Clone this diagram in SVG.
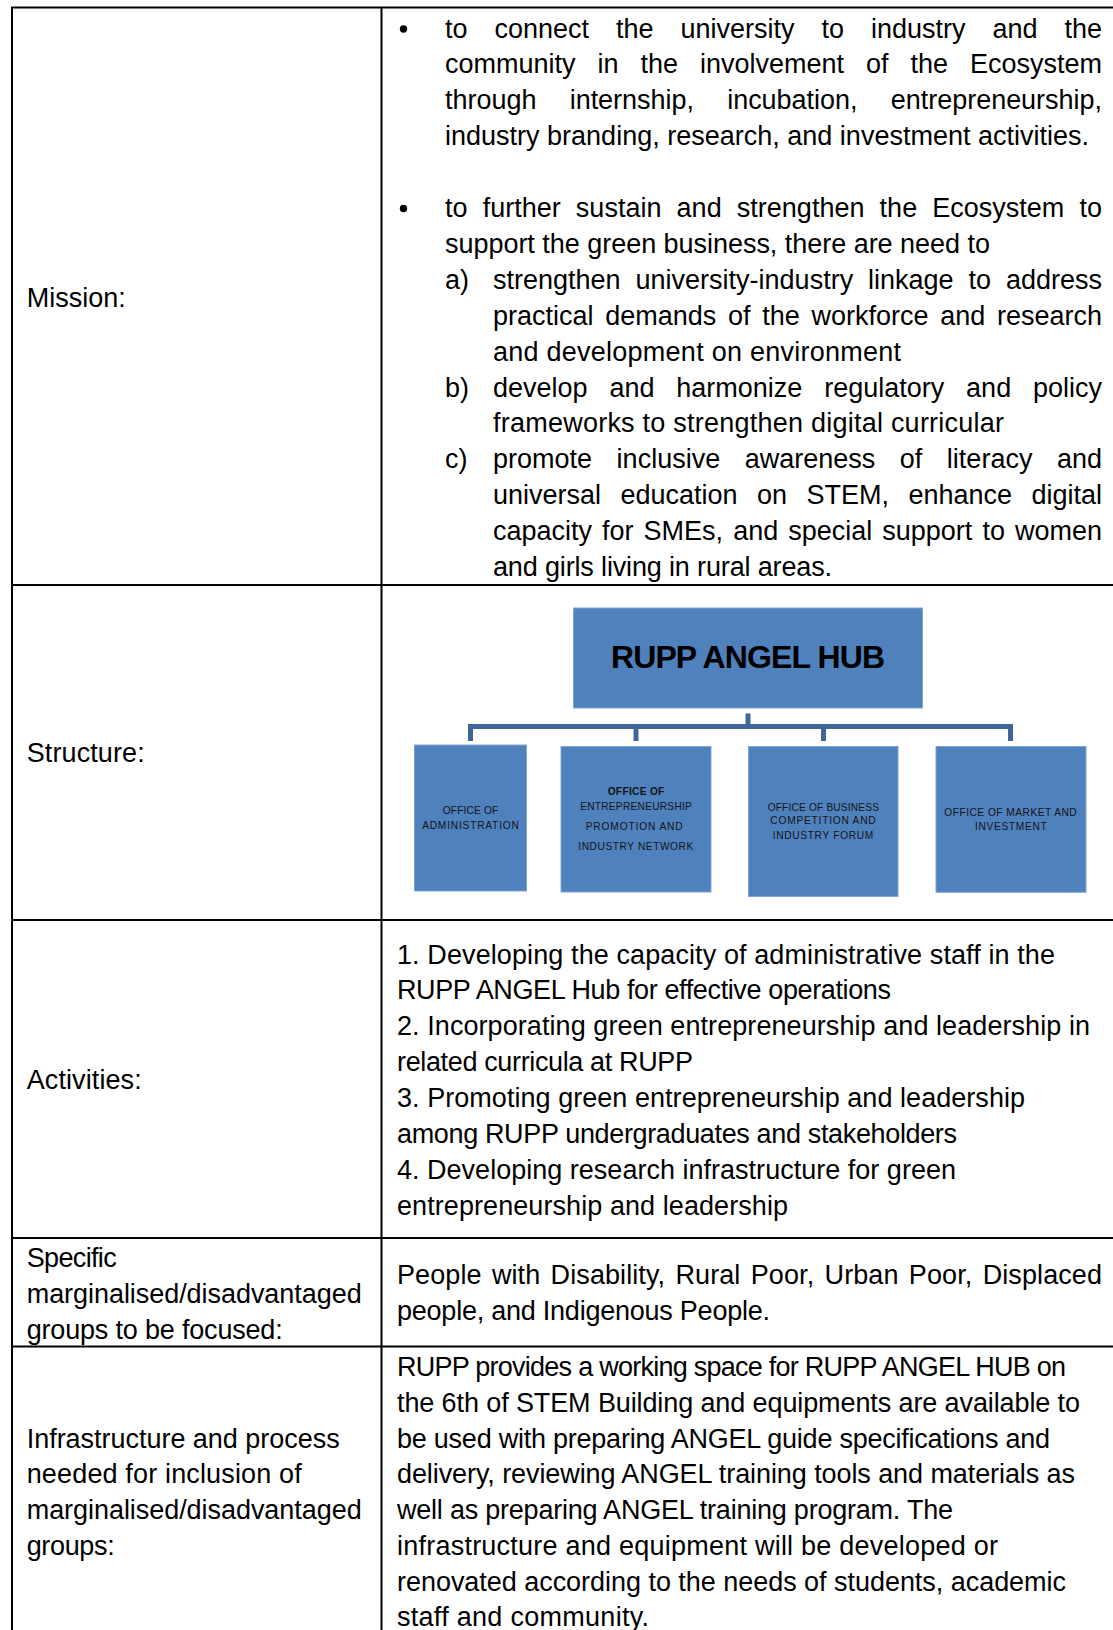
<svg xmlns="http://www.w3.org/2000/svg" width="1113" height="1630" viewBox="0 0 1113 1630">
<style>
.t{font-family:"Liberation Sans",Arial,sans-serif;font-size:27px;fill:#000}
.grid{stroke:#000;stroke-width:2;fill:none}
.box{fill:#4F81BD;stroke:#7FA5D5;stroke-width:1}
.bt{font-family:"Liberation Sans",Arial,sans-serif;font-size:10.2px;fill:#141414;text-anchor:middle}
.hub{font-family:"Liberation Sans",Arial,sans-serif;font-size:32px;font-weight:bold;fill:#000;text-anchor:middle}
.conn{stroke:#3F6699;stroke-width:5;fill:none}
.dot{fill:#000}
</style>
<rect x="0" y="0" width="1113" height="1630" fill="#fff"/>
<g id="table-grid">
<line class="grid" x1="11" y1="7.5" x2="1113" y2="7.5"/>
<line class="grid" x1="12" y1="7.5" x2="12" y2="1630"/>
<line class="grid" x1="381.5" y1="7.5" x2="381.5" y2="1630"/>
<line class="grid" x1="12" y1="585" x2="1113" y2="585"/>
<line class="grid" x1="12" y1="920" x2="1113" y2="920"/>
<line class="grid" x1="12" y1="1238" x2="1113" y2="1238"/>
<line class="grid" x1="12" y1="1346.5" x2="1113" y2="1346.5"/>
</g>
<g id="labels">
<text class="t" x="26.7" y="306.5" textLength="99">Mission:</text>
<text class="t" x="26.7" y="761.7" textLength="118">Structure:</text>
<text class="t" x="26.7" y="1089" textLength="115">Activities:</text>
<text class="t" x="26.7" y="1267" textLength="90">Specific</text>
<text class="t" x="26.7" y="1302.5" textLength="335">marginalised/disadvantaged</text>
<text class="t" x="26.7" y="1338.5" textLength="256">groups to be focused:</text>
<text class="t" x="26.7" y="1447.5" textLength="313">Infrastructure and process</text>
<text class="t" x="26.7" y="1483.3" textLength="275">needed for inclusion of</text>
<text class="t" x="26.7" y="1519" textLength="335">marginalised/disadvantaged</text>
<text class="t" x="26.7" y="1554.8" textLength="88">groups:</text>
</g>
<g id="mission">
<circle class="dot" cx="403.5" cy="29" r="3.7"/>
<circle class="dot" cx="403.5" cy="208.5" r="3.7"/>
<text class="t" x="445" y="37.5" textLength="657" style="word-spacing:19.4px">to connect the university to industry and the</text>
<text class="t" x="445" y="73.4" textLength="657" style="word-spacing:14.4px">community in the involvement of the Ecosystem</text>
<text class="t" x="445" y="109.3" textLength="657" style="word-spacing:25.8px">through internship, incubation, entrepreneurship,</text>
<text class="t" x="445" y="145.2" textLength="644">industry branding, research, and investment activities.</text>
<text class="t" x="445" y="217" textLength="657" style="word-spacing:7.6px">to further sustain and strengthen the Ecosystem to</text>
<text class="t" x="445" y="252.9" textLength="545">support the green business, there are need to</text>
<text class="t" x="445" y="288.8">a)</text>
<text class="t" x="493" y="288.8" textLength="609" style="word-spacing:7.4px">strengthen university-industry linkage to address</text>
<text class="t" x="493" y="324.7" textLength="609" style="word-spacing:4.2px">practical demands of the workforce and research</text>
<text class="t" x="493" y="360.6" textLength="408">and development on environment</text>
<text class="t" x="445" y="396.5">b)</text>
<text class="t" x="493" y="396.5" textLength="609" style="word-spacing:14.3px">develop and harmonize regulatory and policy</text>
<text class="t" x="493" y="432.4" textLength="511">frameworks to strengthen digital curricular</text>
<text class="t" x="445" y="468.3">c)</text>
<text class="t" x="493" y="468.3" textLength="609" style="word-spacing:17px">promote inclusive awareness of literacy and</text>
<text class="t" x="493" y="504.2" textLength="609" style="word-spacing:11.9px">universal education on STEM, enhance digital</text>
<text class="t" x="493" y="540.1" textLength="609" style="word-spacing:2.5px">capacity for SMEs, and special support to women</text>
<text class="t" x="493" y="576" textLength="339">and girls living in rural areas.</text>
</g>
<g id="connectors">
<line class="conn" x1="748" y1="713.5" x2="748" y2="727"/>
<path class="conn" d="M470.5,741 V726.5 H1010.5 V741"/>
<line class="conn" x1="636" y1="726" x2="636" y2="741"/>
<line class="conn" x1="823.5" y1="726" x2="823.5" y2="741"/>
</g>
<g id="node-hub">
<rect class="box" x="573.5" y="608" width="349" height="100"/>
<text class="hub" x="748" y="668" textLength="274">RUPP ANGEL HUB</text>
</g>
<g id="node-admin">
<rect class="box" x="414.5" y="745" width="112" height="146"/>
<text class="bt" x="470.5" y="814" textLength="55.6">OFFICE OF</text>
<text class="bt" x="470.5" y="828.5" textLength="96.7">ADMINISTRATION</text>
</g>
<g id="node-entrepreneurship">
<rect class="box" x="561" y="746.5" width="150" height="145.5"/>
<text class="bt" x="636" y="795" textLength="56.7" font-weight="bold">OFFICE OF</text>
<text class="bt" x="636" y="809.5" textLength="111.7">ENTREPRENEURSHIP</text>
<text class="bt" x="634.2" y="830" textLength="97">PROMOTION AND</text>
<text class="bt" x="635.8" y="850" textLength="115">INDUSTRY NETWORK</text>
</g>
<g id="node-business">
<rect class="box" x="748.5" y="746.5" width="149.5" height="150"/>
<text class="bt" x="823.3" y="810.5" textLength="111.3">OFFICE OF BUSINESS</text>
<text class="bt" x="823" y="824.3" textLength="105.3">COMPETITION AND</text>
<text class="bt" x="823" y="839" textLength="100.7">INDUSTRY FORUM</text>
</g>
<g id="node-market">
<rect class="box" x="936" y="746.5" width="150" height="145.8"/>
<text class="bt" x="1010.5" y="815.5" textLength="132.3">OFFICE OF MARKET AND</text>
<text class="bt" x="1010.8" y="830" textLength="71.7">INVESTMENT</text>
</g>
<g id="activities">
<text class="t" x="397" y="963.5" textLength="658">1. Developing the capacity of administrative staff in the</text>
<text class="t" x="397" y="999.4" textLength="494">RUPP ANGEL Hub for effective operations</text>
<text class="t" x="397" y="1035.2" textLength="693">2. Incorporating green entrepreneurship and leadership in</text>
<text class="t" x="397" y="1071.1" textLength="296">related curricula at RUPP</text>
<text class="t" x="397" y="1106.9" textLength="628">3. Promoting green entrepreneurship and leadership</text>
<text class="t" x="397" y="1142.8" textLength="560">among RUPP undergraduates and stakeholders</text>
<text class="t" x="397" y="1178.6" textLength="559">4. Developing research infrastructure for green</text>
<text class="t" x="397" y="1214.5" textLength="391">entrepreneurship and leadership</text>
</g>
<g id="groups">
<text class="t" x="397" y="1284" textLength="705" style="word-spacing:2.7px">People with Disability, Rural Poor, Urban Poor, Displaced</text>
<text class="t" x="397" y="1320" textLength="373">people, and Indigenous People.</text>
</g>
<g id="infrastructure">
<text class="t" x="397" y="1376" textLength="669">RUPP provides a working space for RUPP ANGEL HUB on</text>
<text class="t" x="397" y="1411.8" textLength="683">the 6th of STEM Building and equipments are available to</text>
<text class="t" x="397" y="1447.5" textLength="653">be used with preparing ANGEL guide specifications and</text>
<text class="t" x="397" y="1483.3" textLength="678">delivery, reviewing ANGEL training tools and materials as</text>
<text class="t" x="397" y="1519" textLength="556">well as preparing ANGEL training program. The</text>
<text class="t" x="397" y="1554.8" textLength="601">infrastructure and equipment will be developed or</text>
<text class="t" x="397" y="1590.5" textLength="669">renovated according to the needs of students, academic</text>
<text class="t" x="397" y="1626.3" textLength="252">staff and community.</text>
</g>
</svg>
